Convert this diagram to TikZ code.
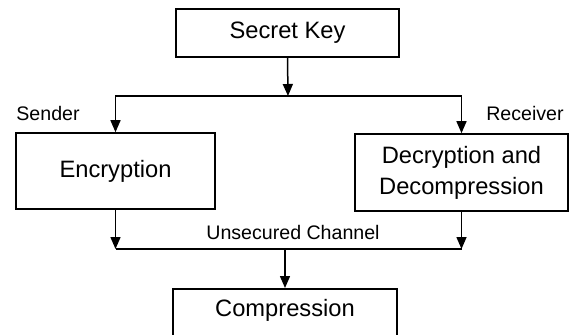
\documentclass[tikz,border=0pt]{standalone}
\usepackage{fontspec}
\setmainfont{Liberation Sans}
\usetikzlibrary{arrows.meta}
\tikzset{
	block/.style={draw, line width=1.6pt, inner sep=0pt, font=\fontsize{23.7}{31}\selectfont, align=center},
	side/.style={font=\fontsize{19.6}{24}\selectfont},
}
\begin{document}
\begin{tikzpicture}[x=1pt, y=-1pt, >={Triangle[length=12pt,width=10pt]}, line width=1.5pt, line join=miter]
	\useasboundingbox (0,0) rectangle (569,334);
	% boxes
	\node[block, minimum width=223pt, minimum height=48pt] (key) at (287.5,33) {Secret Key};
	\node[block, minimum width=199pt, minimum height=76pt] (encr) at (115.5,171) {Encryption};
	\node[block, minimum width=213pt, minimum height=77pt] (decr) at (461.5,172.5) {Decryption and\\Decompression};
	\node[block, minimum width=224pt, anchor=north, text height=28pt, text depth=20pt] (comp) at (285,288) {Compression};
	% labels
	\node[side] (sender) at (48,113) {Sender};
	\node[side] (receiver) at (525,113) {Receiver};
	\node[side] (channel) at (293,232) {Unsecured Channel};
	% junctions
	\coordinate (fork) at (288,96);
	\coordinate (join) at (285,249);
	% key to both sides
	\draw[->] (key.south) -- (fork);
	\draw[->] (fork) -| (encr.north);
	\draw[->] (fork) -| (decr.north);
	% both sides to compression
	\draw[->] (encr.south) -- (encr.south |- join);
	\draw[->] (decr.south) -- (decr.south |- join);
	\draw (encr.south |- join) -- (decr.south |- join);
	\draw[->] (join) -- (comp.north);
\end{tikzpicture}
\end{document}
